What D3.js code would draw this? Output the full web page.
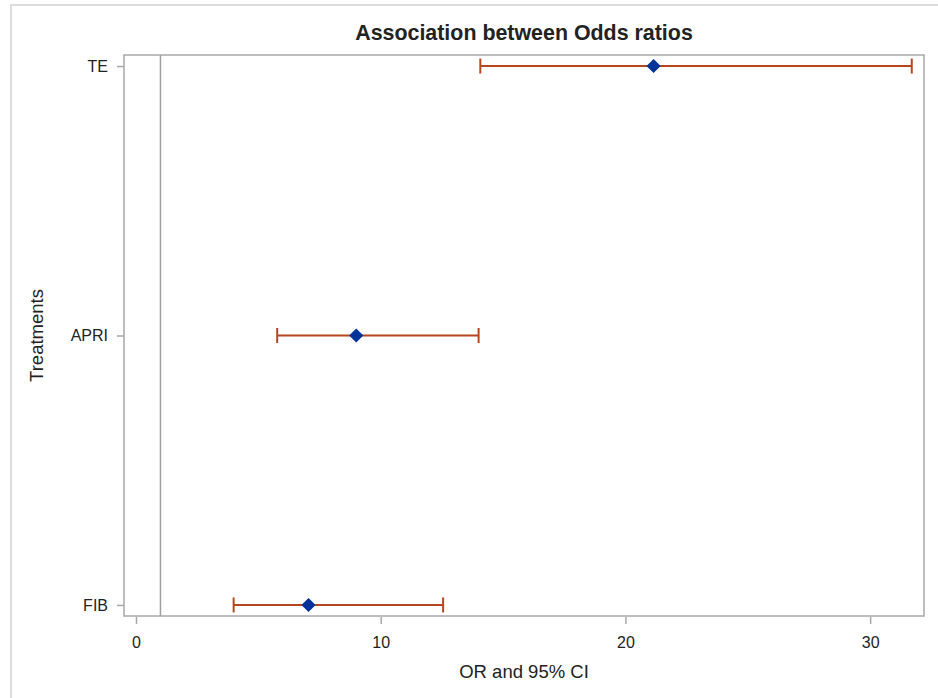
<!DOCTYPE html>
<html>
  <head>
    <meta charset="utf-8">
    <script src="https://d3js.org/d3.v7.min.js" charset="utf-8"></script>
    <style>
      body { margin: 0; background: #fff; }
      svg text { font-family: Arial, "Liberation Sans", sans-serif; fill: #222; }
    </style>
  </head>

  <body>
    <svg id="chart" width="938" height="698"></svg>
  </body>
    <script type="text/javascript">
	var treatments = ["TE", "APRI", "FIB"];
	var oddsRatio = [21.15, 9.0, 7.05];
	var lowerCI = [14.07, 5.77, 3.99];
	var upperCI = [31.7, 14.0, 12.55];
	var xTicks = [0, 10, 20, 30];
	var refValue = 1;

	var data = treatments.map(function(t, i) {
		return {name: t, or: oddsRatio[i], lo: lowerCI[i], hi: upperCI[i]};
	});

	var margin = {top: 55, right: 14, bottom: 82, left: 124};
	var width = 938 - margin.left - margin.right;
	var height = 698 - margin.top - margin.bottom;

	var svg = d3.select("#chart");

	// light frame round the whole picture
	svg.append("path")
		.attr("d", "M11,698 V5 H938")
		.attr("fill", "none")
		.attr("stroke", "#dcdcdc")
		.attr("stroke-width", 2);

	var chart = svg.append("g")
		.attr("transform", "translate(" + margin.left + "," + margin.top + ")");

	var x = d3.scaleLinear()
		.domain([-0.49, 32.2])
		.range([0, width]);

	var y = d3.scalePoint()
		.domain(treatments)
		.range([0, height])
		.padding(0.041);

	var xAxis = d3.axisBottom(x).tickValues(xTicks).tickSize(7).tickPadding(13);
	var yAxis = d3.axisLeft(y).tickSize(7).tickPadding(9);

	chart.append("g")
		.attr("class", "xaxis")
		.attr("transform", "translate(0," + (height + 1) + ")")
		.call(xAxis);

	chart.append("g")
		.attr("class", "yaxis")
		.call(yAxis);

	chart.selectAll(".domain").remove();
	chart.selectAll(".tick line").attr("stroke", "#a8a8a8").attr("stroke-width", 1.5);
	chart.selectAll(".tick text").attr("font-size", "16px").attr("fill", "#222");

	// plot frame
	chart.append("rect")
		.attr("width", width)
		.attr("height", height)
		.attr("fill", "none")
		.attr("stroke", "#a8a8a8")
		.attr("stroke-width", 1.5);

	// reference line at OR = 1
	chart.append("line")
		.attr("x1", x(refValue))
		.attr("x2", x(refValue))
		.attr("y1", 0)
		.attr("y2", height)
		.attr("stroke", "#a0a0a0")
		.attr("stroke-width", 1.5);

	var barColor = "#b6461c";
	var rows = chart.selectAll(".ci")
		.data(data)
		.enter().append("g")
		.attr("class", "ci")
		.attr("transform", function(d) { return "translate(0," + y(d.name) + ")"; });

	rows.append("line")
		.attr("x1", function(d) { return x(d.lo); })
		.attr("x2", function(d) { return x(d.hi); })
		.attr("stroke", barColor)
		.attr("stroke-width", 2);

	rows.selectAll(".cap")
		.data(function(d) { return [d.lo, d.hi]; })
		.enter().append("line")
		.attr("class", "cap")
		.attr("x1", function(v) { return x(v); })
		.attr("x2", function(v) { return x(v); })
		.attr("y1", -7.5)
		.attr("y2", 7.5)
		.attr("stroke", barColor)
		.attr("stroke-width", 2);

	rows.append("path")
		.attr("d", d3.symbol().type(d3.symbolSquare).size(100))
		.attr("transform", function(d) { return "translate(" + x(d.or) + ",0) rotate(45)"; })
		.attr("fill", "#003399");

	svg.append("text")
		.attr("x", margin.left + width / 2)
		.attr("y", 40)
		.attr("text-anchor", "middle")
		.attr("font-size", "21.4px")
		.attr("font-weight", "bold")
		.attr("fill", "#000")
		.text("Association between Odds ratios");

	svg.append("text")
		.attr("x", margin.left + width / 2)
		.attr("y", 678)
		.attr("text-anchor", "middle")
		.attr("font-size", "18.5px")
		.text("OR and 95% CI");

	svg.append("text")
		.attr("transform", "translate(43," + (margin.top + height / 2) + ") rotate(-90)")
		.attr("text-anchor", "middle")
		.attr("font-size", "18.5px")
		.text("Treatments");
    </script>
</html>
